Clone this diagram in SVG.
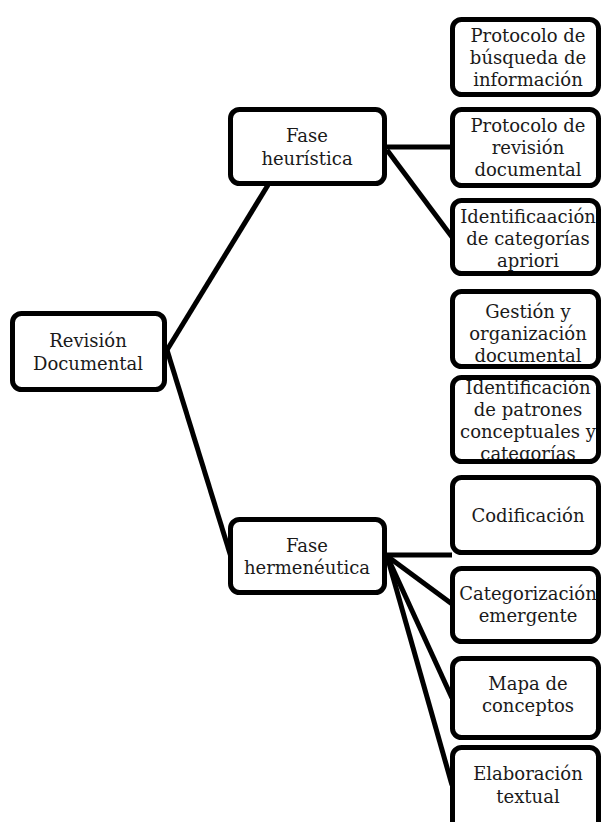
<svg xmlns="http://www.w3.org/2000/svg" width="601" height="822" viewBox="0 0 601 822">
<style>
.box{fill:#fff;stroke:#000;stroke-width:5}
.edge{stroke:#000;stroke-width:5;fill:none;stroke-linecap:butt}
text{font-family:"DejaVu Serif","Liberation Serif",serif;font-size:18px;fill:#1a1a1a;text-anchor:middle}
</style>
<defs>
<clipPath id="c5"><rect x="452.5" y="377.5" width="146" height="84"/></clipPath>
</defs>
<rect width="601" height="822" fill="#fff"/>
<g id="connectors">
<line class="edge" x1="167" y1="350" x2="268" y2="185"/>
<line class="edge" x1="167" y1="350" x2="231" y2="557"/>
<line class="edge" x1="387" y1="147" x2="452" y2="147"/>
<line class="edge" x1="387" y1="150" x2="452" y2="237"/>
<line class="edge" x1="387" y1="555" x2="452" y2="555"/>
<line class="edge" x1="387" y1="556" x2="452" y2="604"/>
<line class="edge" x1="387" y1="556" x2="452" y2="698"/>
<line class="edge" x1="387" y1="556" x2="452" y2="785"/>
</g>
<g id="revision">
<rect class="box" x="12.5" y="313.5" width="152" height="76" rx="9"/>
<text x="88" y="347">Revisión</text>
<text x="88" y="370">Documental</text>
</g>
<g id="heuristica">
<rect class="box" x="230.5" y="109.5" width="154" height="74" rx="9"/>
<text x="307" y="142">Fase</text>
<text x="307" y="165">heurística</text>
</g>
<g id="hermeneutica">
<rect class="box" x="230.5" y="519.5" width="154" height="73" rx="9"/>
<text x="307" y="552">Fase</text>
<text x="307" y="574">hermenéutica</text>
</g>
<g id="n1">
<rect class="box" x="452.5" y="19.5" width="146" height="75" rx="9"/>
<text x="528" y="42">Protocolo de</text>
<text x="528" y="64">búsqueda de</text>
<text x="528" y="86">información</text>
</g>
<g id="n2">
<rect class="box" x="452.5" y="109.5" width="146" height="76" rx="9"/>
<text x="528" y="132">Protocolo de</text>
<text x="528" y="154">revisión</text>
<text x="528" y="176">documental</text>
</g>
<g id="n3">
<rect class="box" x="452.5" y="200.5" width="146" height="73" rx="9"/>
<text x="528" y="223">Identificaación</text>
<text x="528" y="245">de categorías</text>
<text x="528" y="267">apriori</text>
</g>
<g id="n4">
<rect class="box" x="452.5" y="291.5" width="146" height="75" rx="9"/>
<text x="528" y="318">Gestión y</text>
<text x="528" y="340">organización</text>
<text x="528" y="362">documental</text>
</g>
<g id="n5">
<rect x="452.5" y="377.5" width="146" height="84" rx="9" fill="#fff"/>
<g clip-path="url(#c5)">
<text x="528" y="394">Identificación</text>
<text x="528" y="416">de patrones</text>
<text x="528" y="438">conceptuales y</text>
<text x="528" y="460">categorías</text>
</g>
<rect x="452.5" y="377.5" width="146" height="84" rx="9" fill="none" stroke="#000" stroke-width="5"/>
</g>
<g id="n6">
<rect class="box" x="452.5" y="477.5" width="146" height="75" rx="9"/>
<text x="528" y="522">Codificación</text>
</g>
<g id="n7">
<rect class="box" x="452.5" y="568.5" width="146" height="73" rx="9"/>
<text x="528" y="600">Categorización</text>
<text x="528" y="622">emergente</text>
</g>
<g id="n8">
<rect class="box" x="452.5" y="658.5" width="146" height="79" rx="9"/>
<text x="528" y="690">Mapa de</text>
<text x="528" y="712">conceptos</text>
</g>
<g id="n9">
<rect class="box" x="452.5" y="747.5" width="146" height="84" rx="9"/>
<text x="528" y="780">Elaboración</text>
<text x="528" y="803">textual</text>
</g>
</svg>
